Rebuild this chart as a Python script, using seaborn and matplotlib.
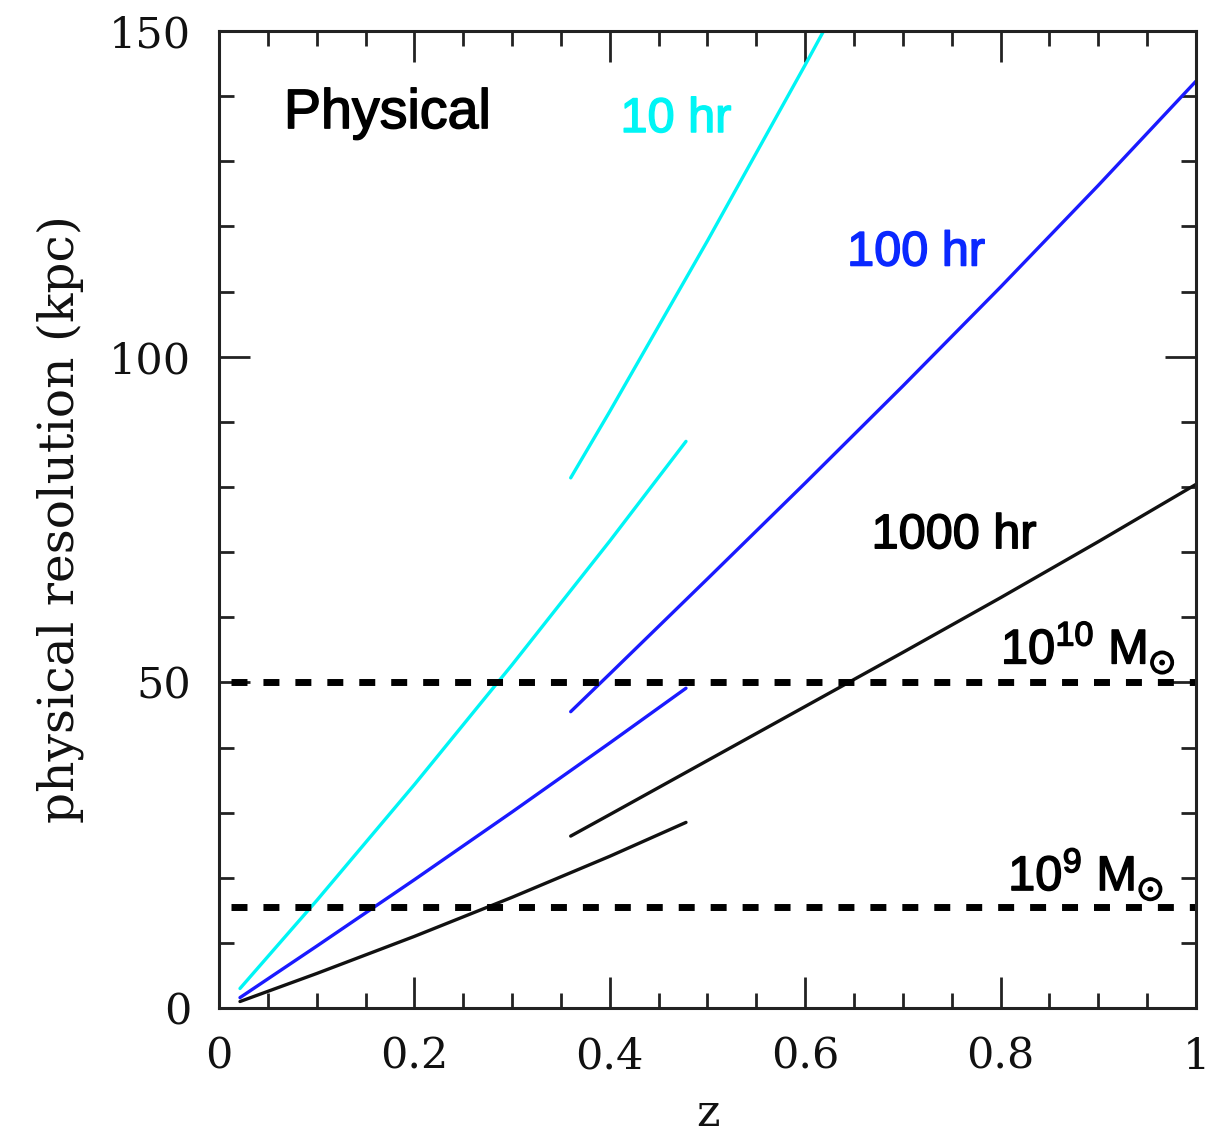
import matplotlib
matplotlib.use("Agg")
import matplotlib.pyplot as plt
import matplotlib.patheffects as pe
import seaborn as sns
import numpy as np
import pandas as pd

# ---- data ----
z_low = [0.0215, 0.1, 0.2, 0.3, 0.4, 0.478]
z_high = [0.36, 0.4, 0.5, 0.6, 0.7, 0.8, 0.9, 1.0]
z_high_10 = [0.36, 0.4, 0.5, 0.6, 0.65]

res10_low = [3.0, 16.5, 34.3, 52.7, 71.7, 87.0]
res10_high = [81.4, 91.6, 117.8, 144.8, 158.6]
res100_low = [1.6, 9.5, 19.7, 30.1, 40.7, 49.1]
res100_high = [45.5, 51.3, 65.9, 80.6, 95.5, 110.7, 126.3, 142.3]
res1000_low = [1.0, 5.3, 11.0, 17.0, 23.3, 28.5]
res1000_high = [26.4, 29.7, 38.0, 46.3, 54.6, 63.0, 71.6, 80.4]

mass_levels = [50.0, 15.5]
mass_extent = [0.012, 1.0]

x_ticks = [0, 0.2, 0.4, 0.6, 0.8, 1.0]
x_ticklabels = ["0", "0.2", "0.4", "0.6", "0.8", "1"]
y_ticks = [0, 50, 100, 150]
y_ticklabels = ["0", "50", "100", "150"]

CYAN = "#00f5f5"
BLUE = "#1a1aff"
BLACK = "#111111"
BLUE_TXT = "#0a28ff"

sns.set_theme(style="ticks")
plt.rcParams["font.family"] = ["DejaVu Serif"]
plt.rcParams["mathtext.fontset"] = "custom"
plt.rcParams["mathtext.rm"] = "Liberation Sans"
plt.rcParams["mathtext.default"] = "regular"

fig = plt.figure(figsize=(12.2, 11.33), dpi=100)
ax = fig.add_axes([0.1795, 0.1103, 0.8008, 0.8623])

segments = [
    (z_low, res10_low, CYAN), (z_high_10, res10_high, CYAN),
    (z_low, res100_low, BLUE), (z_high, res100_high, BLUE),
    (z_low, res1000_low, BLACK), (z_high, res1000_high, BLACK),
]
for zz, rr, col in segments:
    df = pd.DataFrame({"z": zz, "r": rr})
    sns.lineplot(data=df, x="z", y="r", color=col, linewidth=2.4, sort=False, ax=ax)

for lvl in mass_levels:
    df = pd.DataFrame({"z": mass_extent, "r": [lvl, lvl]})
    sns.lineplot(data=df, x="z", y="r", color="black", linewidth=5.0,
                 dashes=False, ax=ax)
    ax.lines[-1].set_linestyle((0, (2.3, 2.3)))
    ax.lines[-1].set_dash_capstyle("butt")

ax.set_xlim(0, 1)
ax.set_ylim(0, 150)
ax.set_xticks(x_ticks)
ax.set_xticklabels(x_ticklabels)
ax.set_yticks(y_ticks)
ax.set_yticklabels(y_ticklabels)
ax.set_xticks(np.arange(0, 1.0001, 0.05), minor=True)
ax.set_yticks(np.arange(0, 150.001, 10), minor=True)

ax.tick_params(which="both", direction="in", top=True, right=True, colors="#222222",
               width=2.0, labelcolor="#111111")
ax.tick_params(which="major", length=22, labelsize=31, pad=20)
ax.tick_params(which="minor", length=11)
for s in ax.spines.values():
    s.set_linewidth(2.2)
    s.set_color("#222222")
    s.set_visible(True)

ax.set_xlabel("z", fontsize=32, labelpad=10, color="#111111")
ax.set_ylabel("physical resolution (kpc)", fontsize=35, labelpad=18, color="#111111")

sans = ["Liberation Sans", "DejaVu Sans"]


def label(x, y, s, size, color, ha="left"):
    t = ax.text(x, y, s, fontsize=size, family=sans, color=color, ha=ha)
    t.set_path_effects([pe.withStroke(linewidth=1.1, foreground=color)])


label(0.0665, 135.1, "Physical", 40, "black")
label(0.411, 134.5, "10 hr", 35, CYAN)
label(0.643, 114.0, "100 hr", 35, BLUE_TXT)
label(0.668, 70.6, "1000 hr", 35, "black")
label(0.979, 52.9, r"10$^{10}$ M$_{\odot}$", 35, "black", ha="right")
label(0.967, 18.1, r"10$^{9}$ M$_{\odot}$", 35, "black", ha="right")

fig.savefig("out.png", dpi=100)
